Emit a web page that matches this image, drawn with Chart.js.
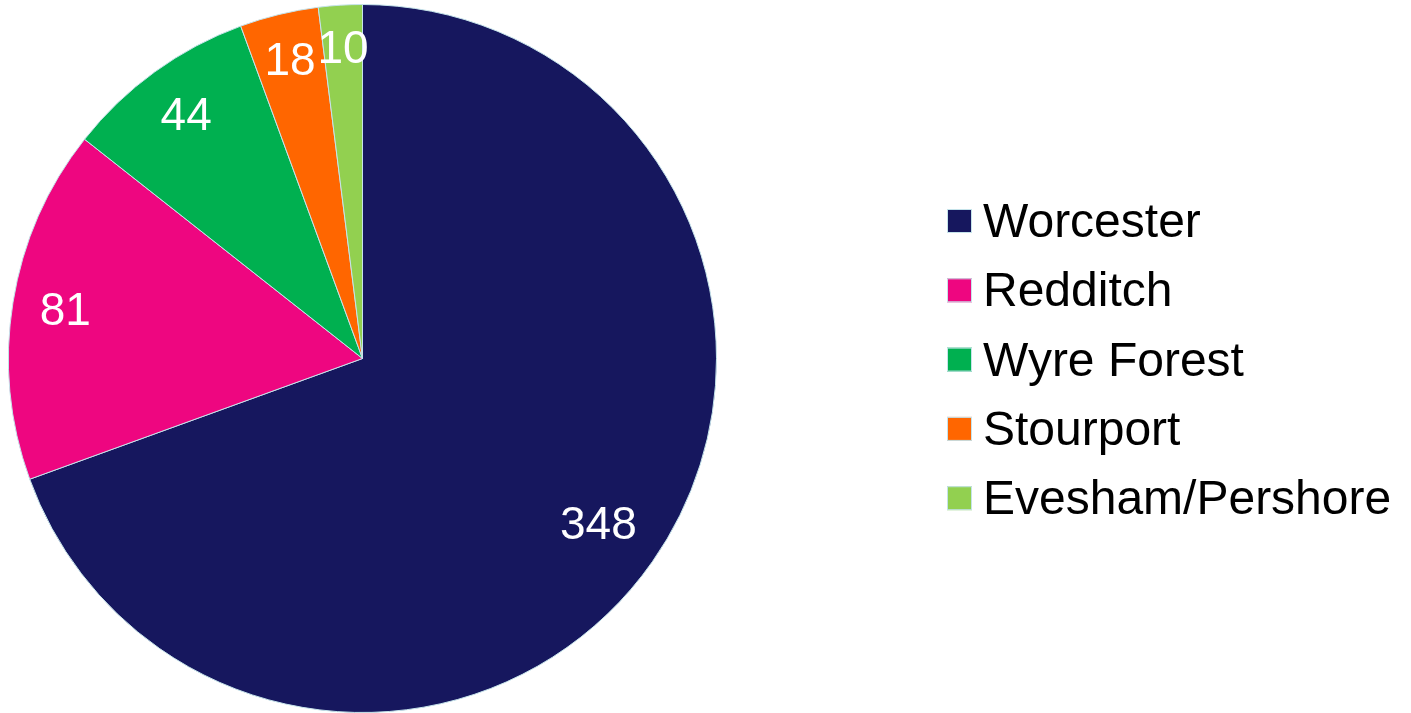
<!DOCTYPE html>
<html>
<head>
<meta charset="utf-8">
<script src="https://cdn.jsdelivr.net/npm/chart.js@4.4.1/dist/chart.umd.min.js"></script>
<style>
    html, body { margin: 0; padding: 0; background: #fff; }
    #wrap { position: relative; width: 1411px; height: 713px; }
</style>
</head>
<body>
<div id="wrap"><canvas id="pieChart"></canvas></div>
<script>
const categories = ['Worcester', 'Redditch', 'Wyre Forest', 'Stourport', 'Evesham/Pershore'];
const counts = [348, 81, 44, 18, 10];
const sliceColours = ['#16175e', '#ee0680', '#00b050', '#ff6600', '#92d050'];

const FONT = '"Liberation Sans", Arial, sans-serif';
const LABEL_SIZE = 46;
const LEGEND_SIZE = 48;

// White value labels placed near the outer edge of each slice
const sliceLabels = {
    id: 'sliceLabels',
    afterDatasetsDraw(chart) {
        const ctx = chart.ctx;
        const meta = chart.getDatasetMeta(0);
        ctx.save();
        ctx.font = LABEL_SIZE + 'px ' + FONT;
        ctx.fillStyle = '#ffffff';
        ctx.textAlign = 'center';
        ctx.textBaseline = 'middle';
        meta.data.forEach((arc, i) => {
            const text = String(counts[i]);
            const mid = (arc.startAngle + arc.endAngle) / 2;
            const w = ctx.measureText(text).width;
            const h = LABEL_SIZE * 0.72;
            const c = Math.cos(mid), s = Math.sin(mid);
            const d = arc.outerRadius - 25 - (Math.abs(c) * w / 2 + Math.abs(s) * h / 2);
            ctx.fillText(text, arc.x + c * d, arc.y + s * d + 2);
        });
        ctx.restore();
    }
};

// Legend drawn on the right side
const sideLegend = {
    id: 'sideLegend',
    afterDraw(chart) {
        const ctx = chart.ctx;
        ctx.save();
        ctx.font = LEGEND_SIZE + 'px ' + FONT;
        ctx.textBaseline = 'alphabetic';
        ctx.textAlign = 'left';
        categories.forEach((name, i) => {
            const top = 209 + i * 69.3;
            ctx.fillStyle = sliceColours[i];
            ctx.fillRect(947, top, 25, 24);
            ctx.strokeStyle = '#c5e3ea';
            ctx.lineWidth = 1;
            ctx.strokeRect(947.5, top + 0.5, 24, 23);
            ctx.fillStyle = '#000000';
            ctx.fillText(name, 983, top + 28);
        });
        ctx.restore();
    }
};

new Chart(document.getElementById('pieChart'), {
    type: 'pie',
    data: {
        labels: categories,
        datasets: [{
            data: counts,
            backgroundColor: sliceColours,
            borderColor: '#c5e3ea',
            borderWidth: 1
        }]
    },
    options: {
        responsive: true,
        maintainAspectRatio: false,
        animation: false,
        layout: { padding: { top: 4, bottom: 0, left: 8, right: 694 } },
        plugins: {
            legend: { display: false },
            tooltip: { enabled: false }
        }
    },
    plugins: [sliceLabels, sideLegend]
});
</script>
</body>
</html>
